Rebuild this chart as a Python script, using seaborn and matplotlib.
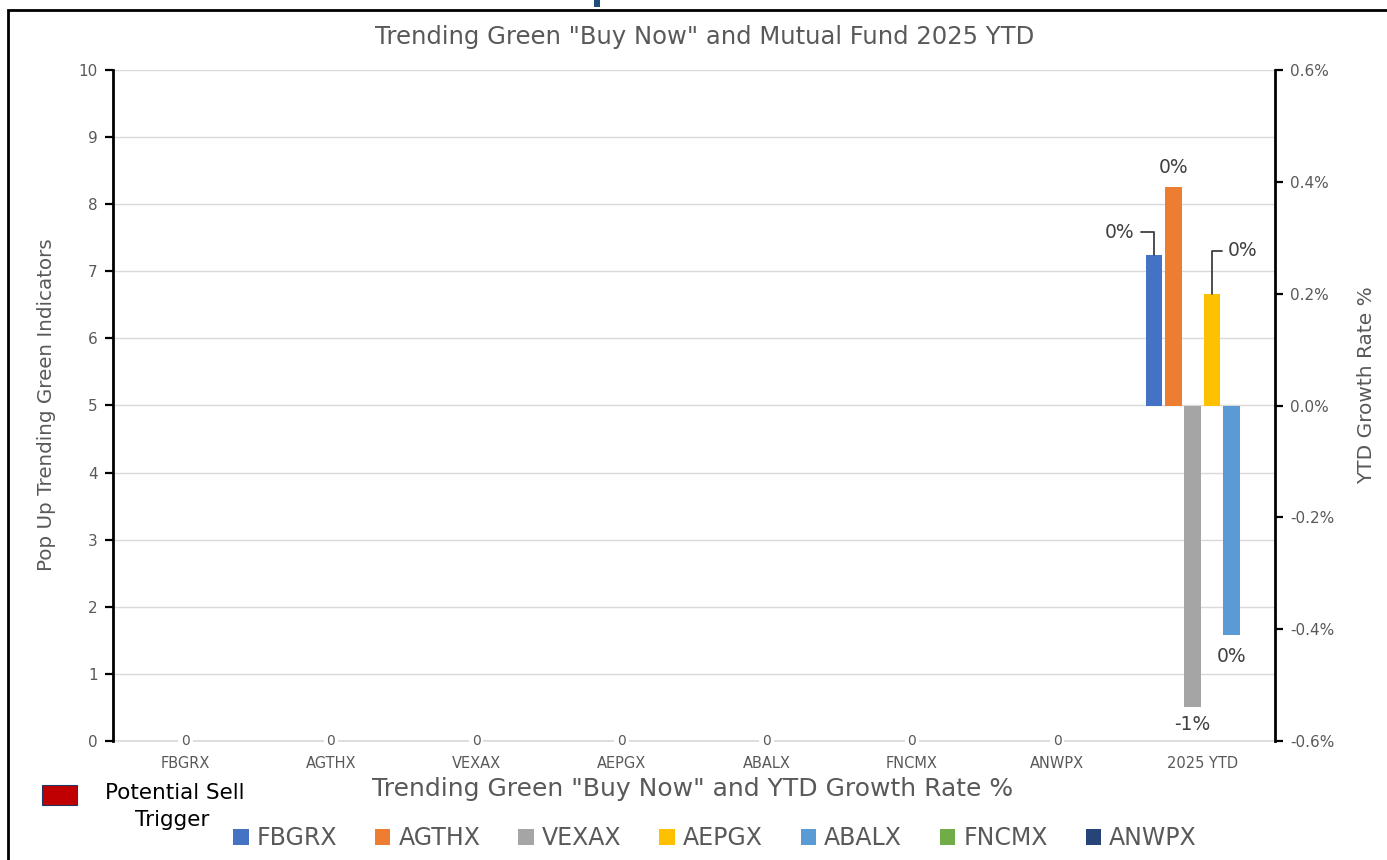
import matplotlib
matplotlib.use('Agg')
import matplotlib.pyplot as plt
from matplotlib.patches import Patch, Rectangle
import seaborn as sns
import pandas as pd
import numpy as np

# chart data
categories = ['FBGRX', 'AGTHX', 'VEXAX', 'AEPGX', 'ABALX', 'FNCMX', 'ANWPX', '2025 YTD']
funds = ['FBGRX', 'AGTHX', 'VEXAX', 'AEPGX', 'ABALX', 'FNCMX', 'ANWPX']
green_indicators = [0, 0, 0, 0, 0, 0, 0]
ytd_funds = ['FBGRX', 'AGTHX', 'VEXAX', 'AEPGX', 'ABALX', 'FNCMX']
ytd_growth_pct = [0.27, 0.39, -0.54, 0.20, -0.41, np.nan]
fund_colors = ['#4472C4', '#ED7D31', '#A5A5A5', '#FFC000', '#5B9BD5', '#70AD47', '#264478']

sns.set_theme(style='white')
plt.rcParams['font.family'] = ['DejaVu Sans']
grey = '#595959'
W, H = 1387, 860

fig = plt.figure(figsize=(13.87, 8.6), dpi=100)
ax = fig.add_axes([113 / W, 1 - 741 / H, (1275 - 113) / W, (741 - 70) / H])

# primary axis: green indicator counts (all zero)
ind_df = pd.DataFrame({'category': funds, 'indicators': green_indicators})
sns.barplot(data=ind_df, x='category', y='indicators', order=categories,
            color='#C00000', linewidth=0, ax=ax)
ax.set_ylim(0, 10)
ax.set_yticks(range(11))
ax.yaxis.grid(True, color='#D9D9D9', lw=1)
ax.axhline(0, color='#D9D9D9', lw=1.2, clip_on=False, zorder=0.5)
ax.set_axisbelow(True)
for i, v in enumerate(green_indicators):
    ax.text(i, v, str(v), ha='center', va='center', fontsize=10, color=grey,
            bbox=dict(fc='white', ec='none', pad=2), zorder=3)
for s in ['top', 'right', 'bottom']:
    ax.spines[s].set_visible(False)
ax.spines['left'].set_color('black')
ax.spines['left'].set_linewidth(2)
ax.tick_params(axis='y', left=True, length=6, width=1.6, color='black',
               labelsize=11, labelcolor=grey, pad=5)
ax.tick_params(axis='x', bottom=False, length=0, labelsize=10.5, labelcolor=grey, pad=11)
ax.set_xlabel('')
ax.set_ylabel('')

# secondary axis: YTD growth rate
ax2 = ax.twinx()
ytd_df = pd.DataFrame({'category': '2025 YTD', 'fund': ytd_funds, 'ytd': ytd_growth_pct})
sns.barplot(data=ytd_df, x='category', y='ytd', hue='fund', order=categories,
            hue_order=ytd_funds, palette=fund_colors[:len(ytd_funds)], saturation=1,
            gap=0.15, linewidth=0, legend=False, ax=ax2)
ax2.set_ylim(-0.6, 0.6)
ticks = np.round(np.arange(-0.6, 0.61, 0.2), 1)
ax2.set_yticks(ticks)
ax2.set_yticklabels([f'{abs(t) if t == 0 else t:.1f}%' for t in ticks])
for s in ['top', 'left', 'bottom']:
    ax2.spines[s].set_visible(False)
ax2.spines['right'].set_color('black')
ax2.spines['right'].set_linewidth(2)
ax2.tick_params(axis='y', right=True, length=6, width=1.6, color='black',
                labelsize=11, labelcolor=grey, pad=5)
ax2.set_ylabel('')
ax2.set_xlabel('')

# data labels
label_style = {
    'FBGRX': ((-24.5, 16), True),
    'AGTHX': ((0, 14), False),
    'VEXAX': ((0, -12.5), False),
    'AEPGX': ((22, 31), True),
    'ABALX': ((0, -16), False),
}
slot = 0.8 / len(ytd_funds)
for p in ax2.patches:
    h = p.get_height()
    if not np.isfinite(h):
        continue
    cx = p.get_x() + p.get_width() / 2
    k = int(round((cx - (len(categories) - 1) + 0.4) / slot - 0.5))
    fund = ytd_funds[k]
    if fund not in label_style:
        continue
    off, leader = label_style[fund]
    txt = f'{h:.0f}%'.replace('-0%', '0%')
    arrow = None
    if leader:
        arrow = dict(arrowstyle='-', color='#404040', lw=1.3, shrinkA=2, shrinkB=0,
                     connectionstyle='angle,angleA=0,angleB=90,rad=0')
    ax2.annotate(txt, xy=(cx, h), xytext=off, textcoords='offset points',
                 ha='center', va='center', fontsize=13.5, color='#404040',
                 arrowprops=arrow)

# titles and axis labels
fig.text(705 / W, 1 - 37 / H, 'Trending Green "Buy Now" and Mutual Fund 2025 YTD',
         ha='center', va='center', fontsize=17.5, color=grey)
fig.text(693 / W, 1 - 789 / H, 'Trending Green "Buy Now" and YTD Growth Rate %',
         ha='center', va='center', fontsize=18, color=grey)
fig.text(47 / W, 1 - 405 / H, 'Pop Up Trending Green Indicators', rotation=90,
         ha='center', va='center', fontsize=14.3, color=grey)
fig.text(1367 / W, 1 - 385 / H, 'YTD Growth Rate %', rotation=90,
         ha='center', va='center', fontsize=14.5, color=grey)

# legends
handles = [Patch(facecolor=c, edgecolor='none') for c in fund_colors]
fig.legend(handles, funds, loc='center', bbox_to_anchor=(715 / W, 1 - 838 / H),
           ncol=7, frameon=False, fontsize=17, labelcolor=grey,
           handlelength=0.65, handleheight=0.65, handletextpad=0.35, columnspacing=1.6)
fig.add_artist(Rectangle((42 / W, 1 - 805 / H), 35 / W, 20 / H, transform=fig.transFigure,
                         facecolor='#C00000', edgecolor='#203864', lw=0.8))
fig.text(105 / W, 1 - 793 / H, 'Potential Sell', ha='left', va='center', fontsize=15.5, color='black')
fig.text(172 / W, 1 - 820 / H, 'Trigger', ha='center', va='center', fontsize=15.5, color='black')

# outer frame and the cut-off mark above it
fig.add_artist(Rectangle((8 / W, -0.1), 1.2, 1.1 - 10 / H, transform=fig.transFigure,
                         fill=False, edgecolor='black', lw=2, clip_on=False))
fig.add_artist(Rectangle((594 / W, 1 - 7 / H), 6 / W, 7 / H, transform=fig.transFigure,
                         facecolor='#1F4E79', edgecolor='none'))

fig.savefig('out.png', dpi=100)
